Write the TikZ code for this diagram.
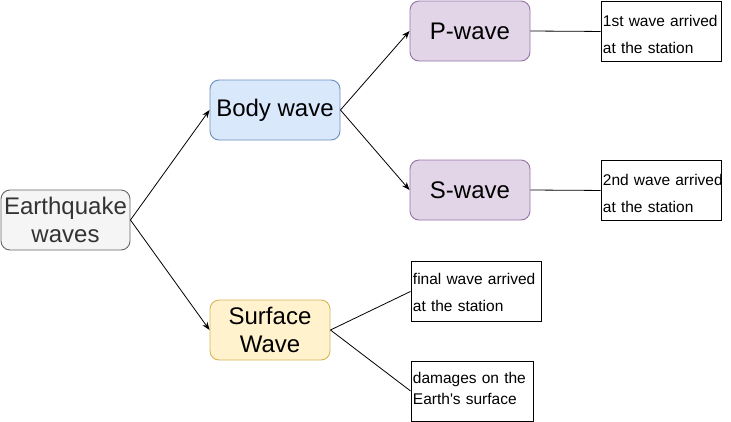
\documentclass[tikz,border=0pt]{standalone}
\usepackage{fontspec}
\setmainfont{Liberation Sans}[Ligatures=TeXOff]
\usetikzlibrary{arrows.meta}
\definecolor{eqfill}{HTML}{F5F5F5}
\definecolor{eqdraw}{HTML}{666666}
\definecolor{eqtext}{HTML}{333333}
\definecolor{bfill}{HTML}{DAE8FC}
\definecolor{bdraw}{HTML}{6C8EBF}
\definecolor{sfill}{HTML}{FFF2CC}
\definecolor{sdraw}{HTML}{D6B656}
\definecolor{pfill}{HTML}{E1D5E7}
\definecolor{pdraw}{HTML}{9673A6}
\begin{document}
\begin{tikzpicture}[x=1pt,y=-1pt,
  wavebox/.style={rectangle, rounded corners=9pt, draw, line width=0.9pt, inner sep=0pt,
    minimum height=60pt, align=center, font=\fontsize{24}{28.8}\selectfont},
  notebox/.style={rectangle, draw=black, line width=0.9pt, inner xsep=2pt, inner ysep=0pt,
    anchor=north west, align=left, font=\fontsize{15.5}{27.5}\selectfont},
  arr/.style={line width=0.8pt, -{Stealth[length=8pt,width=6pt]}},
  lnk/.style={line width=0.8pt}]
\useasboundingbox (0,0) rectangle (731,421);
\node[wavebox, fill=eqfill, draw=eqdraw, text=eqtext, minimum width=129pt] (eq) at (65.5,220) {Earthquake\\waves};
\node[wavebox, fill=bfill, draw=bdraw, minimum width=130pt] (body) at (275,110) {Body wave};
\node[wavebox, fill=sfill, draw=sdraw, minimum width=120pt] (surf) at (270,330) {Surface\\Wave};
\node[wavebox, fill=pfill, draw=pdraw, minimum width=120pt] (pw) at (470,31) {P-wave};
\node[wavebox, fill=pfill, draw=pdraw, minimum width=120pt] (sw) at (470,190) {S-wave};
\node[notebox, text width=116pt, text height=25pt, text depth=35pt] (n1) at (600.5,1) {\mbox{1st wave arrived}\\\mbox{at the station}};
\node[notebox, text width=116pt, text height=25pt, text depth=35pt] (n2) at (600.5,160) {\mbox{2nd wave arrived}\\\mbox{at the station}};
\node[notebox, text width=126pt, text height=23pt, text depth=37pt] (n3) at (410.5,261) {\mbox{final wave arrived}\\\mbox{at the station}};
\node[notebox, text width=118pt, text height=23pt, text depth=37pt, font=\fontsize{15.5}{20.3}\selectfont] (n4) at (410.5,360.5) {\mbox{damages on the}\\\mbox{Earth's surface}};
\draw[arr] (eq.east) -- (body.west);
\draw[arr] (eq.east) -- (surf.west);
\draw[arr] (body.east) -- (pw.west);
\draw[arr] (body.east) -- (sw.west);
\draw[lnk] (pw.east) -- (n1.west);
\draw[lnk] (sw.east) -- (n2.west);
\draw[lnk] (surf.east) -- (n3.west);
\draw[lnk] (surf.east) -- (n4.west);
\end{tikzpicture}
\end{document}
